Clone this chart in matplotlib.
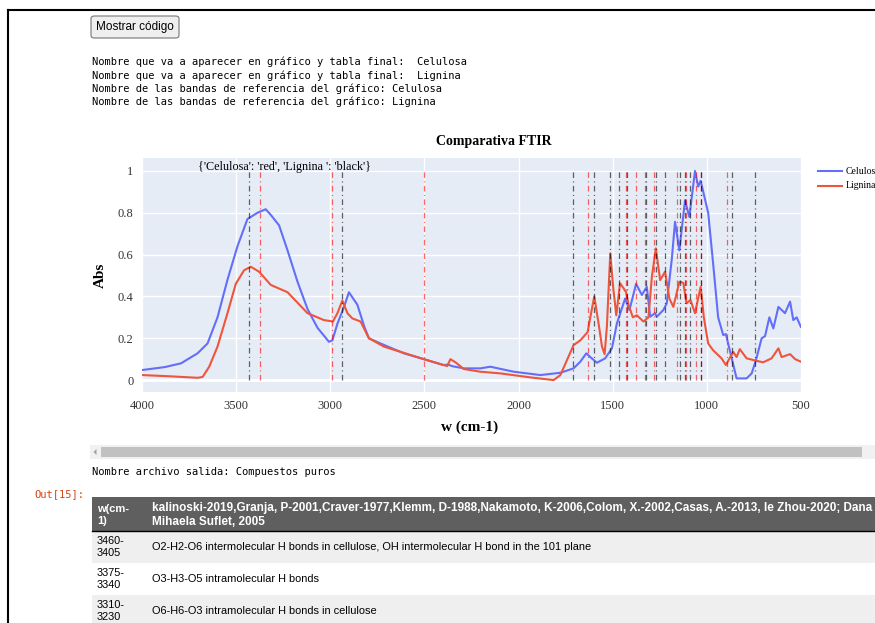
import matplotlib.pyplot as plt
from matplotlib.patches import Rectangle, FancyBboxPatch, Polygon
from matplotlib.lines import Line2D

W, H = 875, 623

# Espectros FTIR (w en cm-1, absorbancia normalizada)
cel_w = [4000, 3880, 3793, 3705, 3652, 3599, 3546, 3493, 3440, 3387, 3343, 3316,
         3272, 3227, 3174, 3121, 3068, 3007, 2989, 2962, 2927, 2901, 2856, 2821,
         2795, 2733, 2609, 2503, 2400, 2375, 2350, 2291, 2203, 2150, 2026, 1884,
         1778, 1708, 1672, 1640, 1619, 1584, 1540, 1504, 1478, 1434, 1411, 1376,
         1345, 1319, 1301, 1275, 1266, 1231, 1213, 1186, 1169, 1146, 1116, 1093,
         1063, 1046, 1033, 993, 967, 940, 913, 899, 868, 842, 789, 762, 739, 709,
         691, 668, 647, 620, 585, 558, 541, 523, 501]
cel_abs = [0.048, 0.062, 0.08, 0.128, 0.175, 0.30, 0.48, 0.64, 0.77, 0.80, 0.817, 0.79,
           0.74, 0.62, 0.47, 0.34, 0.25, 0.183, 0.19, 0.27, 0.35, 0.42, 0.36, 0.26,
           0.20, 0.175, 0.128, 0.10, 0.072, 0.074, 0.066, 0.056, 0.056, 0.064, 0.04, 0.024,
           0.035, 0.056, 0.088, 0.128, 0.11, 0.083, 0.104, 0.152, 0.27, 0.39, 0.335, 0.46,
           0.407, 0.446, 0.303, 0.32, 0.303, 0.335, 0.367, 0.58, 0.757, 0.62, 0.86, 0.78,
           1.0, 0.925, 0.953, 0.80, 0.56, 0.30, 0.215, 0.22, 0.104, 0.008, 0.008, 0.032, 0.096, 0.20,
           0.21, 0.30, 0.247, 0.35, 0.32, 0.375, 0.287, 0.30, 0.255]

lig_w = [4000, 3850, 3705, 3678, 3643, 3599, 3546, 3502, 3458, 3422, 3378, 3316,
         3227, 3121, 3034, 2986, 2962, 2936, 2909, 2883, 2839, 2795, 2715, 2503,
         2379, 2362, 2335, 2291, 2203, 2097, 1938, 1814, 1778, 1708, 1672, 1633,
         1619, 1598, 1575, 1557, 1543, 1531, 1513, 1496, 1481, 1461, 1443, 1429,
         1416, 1393, 1372, 1337, 1310, 1292, 1271, 1248, 1222, 1199, 1178, 1146,
         1125, 1108, 1087, 1063, 1033, 1016, 993, 967, 922, 899, 860, 842, 825,
         789, 736, 701, 656, 620, 603, 558, 531, 501]
lig_abs = [0.024, 0.018, 0.011, 0.015, 0.064, 0.16, 0.32, 0.46, 0.525, 0.542, 0.518, 0.455,
           0.42, 0.32, 0.287, 0.28, 0.32, 0.38, 0.32, 0.295, 0.28, 0.20, 0.16, 0.10,
           0.067, 0.10, 0.085, 0.053, 0.04, 0.032, 0.013, 0.0, 0.024, 0.167, 0.19, 0.23,
           0.30, 0.40, 0.27, 0.16, 0.124, 0.255, 0.606, 0.43, 0.31, 0.463, 0.44, 0.42,
           0.36, 0.30, 0.31, 0.28, 0.30, 0.494, 0.63, 0.478, 0.518, 0.39, 0.35, 0.47,
           0.465, 0.367, 0.383, 0.32, 0.446, 0.30, 0.175, 0.143, 0.104, 0.072, 0.135, 0.11, 0.148,
           0.104, 0.092, 0.085, 0.104, 0.152, 0.11, 0.124, 0.10, 0.088]

# Bandas de referencia
bandas_celulosa = [3375, 2990, 2500, 1630, 1430, 1375, 1330, 1280, 1160, 1112, 1060, 1032, 895]
bandas_lignina = [3430, 2940, 1710, 1600, 1515, 1468, 1426, 1325, 1272, 1220, 1142, 1116,
                  1088, 1030, 868, 745]

x_ticks = [4000, 3500, 3000, 2500, 2000, 1500, 1000, 500]
y_ticks = [0, 0.2, 0.4, 0.6, 0.8, 1]
y_tick_labels = ['0', '0.2', '0.4', '0.6', '0.8', '1']

salida_lines = [
    "Nombre que va a aparecer en gráfico y tabla final:  Celulosa",
    "Nombre que va a aparecer en gráfico y tabla final:  Lignina",
    "Nombre de las bandas de referencia del gráfico: Celulosa",
    "Nombre de las bandas de referencia del gráfico: Lignina",
]
tabla_cabecera = ["w(cm-\n1)",
                  "kalinoski-2019,Granja, P-2001,Craver-1977,Klemm, D-1988,Nakamoto, K-2006,"
                  "Colom, X.-2002,Casas, A.-2013, le Zhou-2020; Dana\nMihaela Suflet, 2005"]
tabla_w = ["3460-\n3405", "3375-\n3340", "3310-\n3230"]
tabla_desc = ["O2-H2-O6 intermolecular H bonds in cellulose, OH intermolecular H bond in the 101 plane",
              "O3-H3-O5 intramolecular H bonds",
              "O6-H6-O3 intramolecular H bonds in cellulose"]


def fx(x):
    return x / W


def fy(y):
    return 1 - y / H


SERIF = ['Liberation Serif', 'DejaVu Serif']
MONO = ['DejaVu Sans Mono']
SANS = ['Liberation Sans', 'DejaVu Sans']

fig = plt.figure(figsize=(W / 100, H / 100), dpi=100)
fig.patch.set_facecolor('white')

# marco del notebook
fig.add_artist(Line2D([fx(8), fx(8)], [fy(10), fy(H)], transform=fig.transFigure, color='black', lw=1.5))
fig.add_artist(Line2D([fx(8), fx(W)], [fy(10), fy(10)], transform=fig.transFigure, color='black', lw=1.5))

# boton
fig.add_artist(FancyBboxPatch((fx(91), fy(38)), fx(88), 22 / H, boxstyle='round,pad=0,rounding_size=0.004',
                              transform=fig.transFigure, facecolor='#efefef', edgecolor='#767676', lw=0.8))
fig.text(fx(135), fy(27), "Mostrar código", family=SANS, fontsize=8.5, ha='center', va='center')

for i, line in enumerate(salida_lines):
    fig.text(fx(92), fy(62 + i * 13.4), line, family=MONO, fontsize=7.45, va='center')

# grafico
ax = fig.add_axes([fx(142), fy(392), 659 / W, 234 / H])
ax.set_facecolor('#E5ECF6')
for s in ax.spines.values():
    s.set_visible(False)
ax.set_xlim(4000, 500)
ax.set_ylim(-0.057, 1.062)
ax.set_xticks(x_ticks)
ax.set_yticks(y_ticks)
ax.set_yticklabels(y_tick_labels)
ax.tick_params(length=0, labelsize=9, colors='#333333', pad=6)
for lab in ax.get_xticklabels() + ax.get_yticklabels():
    lab.set_family(SERIF)
ax.grid(True, color='white', lw=1)
ax.set_axisbelow(True)
ax.axhline(0, color='white', lw=2, zorder=1)

ax.plot(cel_w, cel_abs, color='#636EFA', lw=1.5, label='Celulosa', zorder=3)
ax.plot(lig_w, lig_abs, color='#EF553B', lw=1.5, label='Lignina', zorder=3)

dashdot = (0, (4.5, 2.7, 0.9, 2.7))
ax.vlines(bandas_celulosa, 0, 1, colors='red', linestyles=[dashdot], lw=0.9, alpha=0.6, zorder=4)
ax.vlines(bandas_lignina, 0, 1, colors='black', linestyles=[dashdot], lw=0.9, alpha=0.6, zorder=4)

ax.text(3245, 1.02, "{'Celulosa': 'red', 'Lignina ': 'black'}", family=SERIF, fontsize=8.7,
        ha='center', va='center', zorder=5)

fig.text(fx(494), fy(141), "Comparativa FTIR", family=SERIF, fontsize=10, weight='bold',
         ha='center', va='center')
fig.text(fx(470), fy(427), "w (cm-1)", family=SERIF, fontsize=11, weight='bold',
         ha='center', va='center')
fig.text(fx(100), fy(275), "Abs", family=SERIF, fontsize=11, weight='bold',
         ha='center', va='center', rotation=90)

# leyenda fuera del eje (recortada por el borde, como en la captura)
for i, (nombre, col) in enumerate([('Celulosa', '#636EFA'), ('Lignina', '#EF553B')]):
    yy = 171 + i * 15
    fig.add_artist(Line2D([fx(818), fx(842)], [fy(yy), fy(yy)], transform=fig.transFigure, color=col, lw=1.5))
    fig.text(fx(846), fy(yy), nombre, family=SERIF, fontsize=7, va='center')

# barra de desplazamiento
fig.add_artist(Rectangle((fx(90), fy(459)), fx(W - 90), 14 / H, transform=fig.transFigure,
                         facecolor='#f1f1f1', edgecolor='none'))
fig.add_artist(Rectangle((fx(101), fy(457)), fx(761), 10 / H, transform=fig.transFigure,
                         facecolor='#c1c1c1', edgecolor='none'))
fig.add_artist(Polygon([[fx(93.5), fy(452)], [fx(96.5), fy(449)], [fx(96.5), fy(455)]],
                       transform=fig.transFigure, facecolor='#a0a0a0', edgecolor='none'))

fig.text(fx(92), fy(472), "Nombre archivo salida: Compuestos puros", family=MONO, fontsize=7.45, va='center')
fig.text(fx(34), fy(494), "Out[15]:", family=MONO, fontsize=7.45, va='center', color='#D84315')

# tabla
fig.add_artist(Rectangle((fx(92), fy(531)), fx(W - 92), 34 / H, transform=fig.transFigure,
                         facecolor='#5f5f5f', edgecolor='none'))
fig.add_artist(Line2D([fx(92), fx(W)], [fy(531), fy(531)], transform=fig.transFigure, color='black', lw=1))
fig.text(fx(97), fy(515), tabla_cabecera[0], family=SANS, fontsize=8, weight='bold', color='white',
         va='center', linespacing=1.15)
fig.text(fx(152), fy(515), tabla_cabecera[1], family=SANS, fontsize=8.5, weight='bold', color='white',
         va='center', linespacing=1.15)

row_top = [531, 563, 595]
row_h = 32
for i, (wv, desc) in enumerate(zip(tabla_w, tabla_desc)):
    if i % 2 == 0:
        fig.add_artist(Rectangle((fx(92), fy(row_top[i] + row_h)), fx(W - 92), row_h / H,
                                 transform=fig.transFigure, facecolor='#efefef', edgecolor='none'))
    yc = row_top[i] + 16
    fig.text(fx(97), fy(yc), wv, family=SANS, fontsize=7.8, va='center', linespacing=1.15)
    fig.text(fx(152), fy(yc), desc, family=SANS, fontsize=7.9, va='center')

fig.savefig('out.png', dpi=100)
